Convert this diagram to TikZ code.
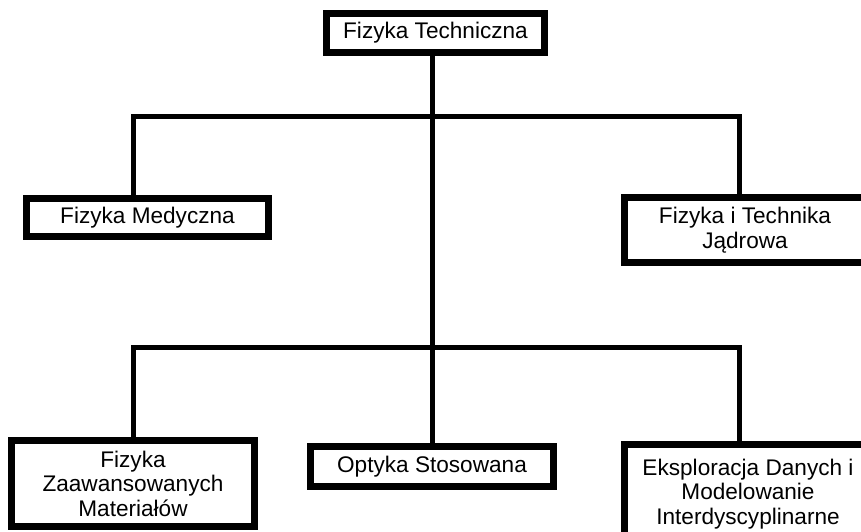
\documentclass[tikz,border=0pt]{standalone}
\usepackage{fontspec}
\setmainfont{Liberation Sans}
\usetikzlibrary{positioning}

\begin{document}
\begin{tikzpicture}[x=1pt,y=-1pt,
unit/.style={draw,line width=7pt,fill=white,align=center,inner sep=0pt,
font=\fontsize{22.6}{24.5}\selectfont},
link/.style={line width=5pt,line join=miter}]
\useasboundingbox (0,0) rectangle (861,532);
\clip (0,0) rectangle (861,532);
\node[unit,minimum width=218,minimum height=39] (FT) at (435.5,33) {Fizyka Techniczna};
\node[unit,minimum width=242,minimum height=38] (FM) at (147.5,217.5) {Fizyka Medyczna};
\node[unit,minimum width=241,minimum height=65] (FTJ) at (745,230) {Fizyka i Technika\\J\k{a}drowa};
\node[unit,minimum width=243,minimum height=86] (FZM) at (133,483.5) {Fizyka\\Zaawansowanych\\Materia\l{}\'ow};
\node[unit,minimum width=243,minimum height=40] (OS) at (432,466.5) {Optyka Stosowana};
\node[unit,minimum width=247,minimum height=100] (EDM) at (748,494) {Eksploracja Danych i\\Modelowanie\\Interdyscyplinarne};
\coordinate (L1) at (133,117);
\coordinate (R1) at (739,117);
\coordinate (L2) at (133,347);
\coordinate (R2) at (739,347);
\draw[link] (FT.south -| OS.north) -- (OS.north);
\draw[link] (FM.north -| L1) -- (L1) -- (R1) -- (FTJ.north -| R1);
\draw[link] (FZM.north -| L2) -- (L2) -- (R2) -- (EDM.north -| R2);
\end{tikzpicture}
\end{document}
